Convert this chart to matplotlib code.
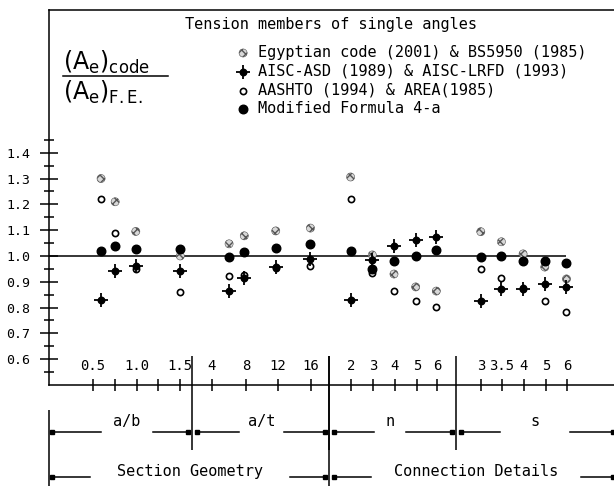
import matplotlib
matplotlib.use('Agg')
import matplotlib.pyplot as plt
from matplotlib.legend_handler import HandlerTuple
from matplotlib.lines import Line2D
import numpy as np

# ------------------------------------------------------------------
# data
# ------------------------------------------------------------------
# x slot of every measurement column (a/b | a/t | n | s groups)
col_x = [2.4, 3.05, 4.0, 6.05, 8.3, 9.0, 10.45, 12.05,
         13.9, 14.9, 15.9, 16.9, 17.85, 19.9, 20.85, 21.85, 22.85, 23.85]

egypt = [1.30, 1.21, 1.095, 1.00, 1.047, 1.078, 1.097, 1.108,
         1.306, 1.004, 0.93, 0.88, 0.864, 1.094, 1.055, 1.008, 0.957, 0.911]
aisc = [0.83, 0.94, 0.96, 0.94, 0.866, 0.916, 0.959, 0.988,
        0.83, 0.985, 1.04, 1.062, 1.073, 0.826, 0.872, 0.872, 0.891, 0.881]
aashto = [1.22, 1.09, 0.95, 0.862, 0.922, 0.925, 0.955, 0.961,
          1.22, 0.935, 0.864, 0.826, 0.804, 0.95, 0.916, 0.875, 0.827, 0.783]
modified = [1.02, 1.039, 1.027, 1.027, 0.996, 1.016, 1.032, 1.046,
            1.02, 0.95, 0.98, 1.0, 1.023, 0.997, 1.0, 0.982, 0.982, 0.974]

series_names = ['Egyptian code (2001) & BS5950 (1985)',
                'AISC-ASD (1989) & AISC-LRFD (1993)',
                'AASHTO (1994) & AREA(1985)',
                'Modified Formula 4-a']

tick_x = [2.03, 3.04, 4.06, 5.02, 6.04, 7.51, 9.08, 10.55, 12.07,
          13.92, 14.93, 15.94, 16.96, 17.88, 19.91, 20.88, 21.89, 22.90, 23.87]
tick_labels = ['0.5', '', '1.0', '', '1.5', '4', '8', '12', '16',
               '2', '3', '4', '5', '6', '3', '3.5', '4', '5', '6']

# parameter groups and the two main headings
sep_x = [6.59, 12.90, 18.76]
groups = ['a/b', 'a/t', 'n', 's']
group_edges = [0.0, 6.59, 12.90, 18.76, 26.04]
group_shift = [0.3, 0.05, -0.1, 0.0]
group_gap = [1.2, 1.03, 0.74, 1.6]
headings = ['Section Geometry', 'Connection Details']
heading_edges = [0.0, 12.90, 26.04]
heading_shift = [0.05, 0.2]
heading_gap = [4.6, 4.85]

XMAX = 26.04
MONO = 'DejaVu Sans Mono'

# ------------------------------------------------------------------
# figure
# ------------------------------------------------------------------
fig = plt.figure(figsize=(6.14, 4.86), dpi=100)
ax = fig.add_axes([49 / 614, 101 / 486, 565 / 614, 375 / 486])
ax.set_xlim(0, XMAX)
ax.set_ylim(0.5, 1.953)

for s in ['left', 'top', 'bottom']:
    ax.spines[s].set_linewidth(1.1)
ax.spines['right'].set_visible(False)

# y axis
ax.set_yticks(np.arange(0.6, 1.41, 0.1))
ax.set_yticklabels([f'{v:.1f}' for v in np.arange(0.6, 1.41, 0.1)])
ax.set_yticks(np.arange(0.55, 1.46, 0.1), minor=True)
ax.tick_params(axis='y', which='major', direction='inout', length=13,
               width=1.1, pad=7, labelsize=9.5)
ax.tick_params(axis='y', which='minor', direction='inout', length=7, width=1.1)
for lab in ax.get_yticklabels():
    lab.set_family(MONO)

# x axis, labels drawn inside the frame
ax.set_xticks(tick_x)
ax.set_xticklabels([])
ax.tick_params(axis='x', which='major', direction='inout', length=9, width=1.1)
for x, lab in zip(tick_x, tick_labels):
    ax.text(x, 0.574, lab, ha='center', va='center', fontsize=10, family=MONO)

# separators between the groups
ax.vlines(sep_x, 0.248, 0.612, color='black', lw=1.1, clip_on=False)
ax.vlines(sep_x[1], 0.109, 0.612, color='black', lw=1.1, clip_on=False)
ax.vlines(0, 0.109, 0.403, color='black', lw=1.1, clip_on=False)

# reference line
ax.hlines(1.0, 0, col_x[-1], color='black', lw=1.1)

# data
h1 = ax.scatter(col_x, egypt, s=34, marker='o', facecolor='#d8d8d8',
                edgecolor='#555555', hatch='xxxx', linewidths=0.4, zorder=3)
h2a = ax.scatter(col_x, aisc, s=22, marker='o', color='black', zorder=4)
h2b = ax.scatter(col_x, aisc, s=110, marker='+', color='black',
                 linewidths=1.3, zorder=4)
h3 = ax.scatter(col_x, aashto, s=20, marker='o', facecolor='white',
                edgecolor='black', linewidths=1.2, zorder=3)
h4 = ax.scatter(col_x, modified, s=38, marker='o', color='black', zorder=5)

leg = ax.legend([h1, (h2a, h2b), h3, h4], series_names,
                handler_map={tuple: HandlerTuple(ndivide=1)},
                loc='upper left', bbox_to_anchor=(237 / 614, 1 - 45 / 486),
                bbox_transform=fig.transFigure, frameon=False,
                prop={'family': MONO, 'size': 11}, handlelength=0.8,
                handletextpad=0.6, labelspacing=0.25, borderpad=0,
                borderaxespad=0, scatterpoints=1)

fig.text(331 / 614, 1 - 24 / 486, 'Tension members of single angles',
         ha='center', va='center', fontsize=11, family=MONO)

# ordinate label as a fraction
fig.text(63 / 614, 1 - 62 / 486, r'$(\mathrm{A_e})_{\mathrm{code}}$',
         ha='left', va='center', fontsize=17)
fig.text(63 / 614, 1 - 92 / 486, r'$(\mathrm{A_e})_{\mathrm{F.E.}}$',
         ha='left', va='center', fontsize=17)
fig.add_artist(Line2D([63 / 614, 168 / 614], [1 - 76 / 486, 1 - 76 / 486],
                      color='black', lw=1.1))


def bracket(left, right, label, shift, gap, y_line, y_text):
    mid = (left + right) / 2 + shift
    x0 = left + 0.25 if left > 0 else 0.15
    x1 = right - 0.2 if right < XMAX else XMAX - 0.05
    ax.plot([x0, mid - gap], [y_line, y_line], color='black', lw=1.1, clip_on=False)
    ax.plot([mid + gap, x1], [y_line, y_line], color='black', lw=1.1, clip_on=False)
    ax.plot([x0, x1], [y_line, y_line], 's', color='black', ms=3, clip_on=False)
    ax.text(mid, y_text, label, ha='center', va='center', fontsize=11,
            family=MONO, clip_on=False)


for i, g in enumerate(groups):
    bracket(group_edges[i], group_edges[i + 1], g, group_shift[i], group_gap[i],
            0.318, 0.36)
for i, h in enumerate(headings):
    bracket(heading_edges[i], heading_edges[i + 1], h, heading_shift[i],
            heading_gap[i], 0.143, 0.163)

fig.savefig('out.png', dpi=100)
